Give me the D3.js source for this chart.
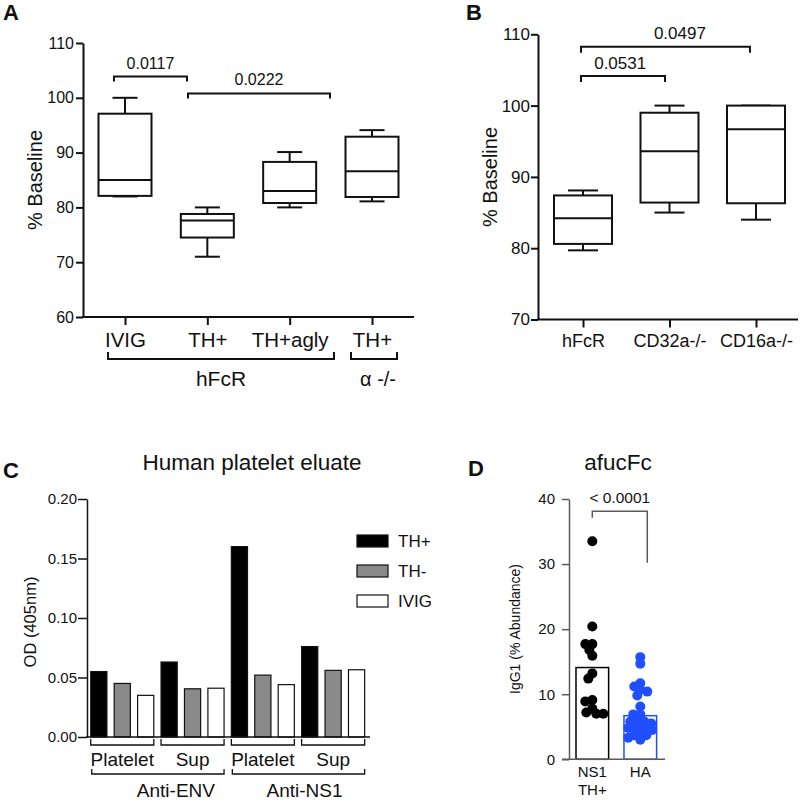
<!DOCTYPE html>
<html><head><meta charset="utf-8">
<script src="https://cdn.jsdelivr.net/npm/d3@7"></script>
<style>
body{margin:0;background:#fff}
svg{display:block}
text{font-family:"Liberation Sans",Arial,Helvetica,sans-serif;fill:#111}
</style>
</head><body>
<svg id="chart" width="800" height="802"></svg>
<script>
// ---------- Panel A data ----------
const aCategories = ["IVIG", "TH+", "TH+agly", "TH+"];
const aMin    = [82.0, 71.0, 80.0, 81.1];
const aQ1     = [82.1, 74.5, 80.8, 81.9];
const aMedian = [85.0, 77.6, 83.0, 86.6];
const aQ3     = [97.1, 78.8, 88.3, 92.9];
const aMax    = [100.0, 80.0, 90.1, 94.1];
const aTicks  = [60, 70, 80, 90, 100, 110];
const aPValues = ["0.0117", "0.0222"];
const aGroupLabels = ["hFcR", "\u03b1 -/-"];

// ---------- Panel B data ----------
const bCategories = ["hFcR", "CD32a-/-", "CD16a-/-"];
const bMin    = [79.7, 85.0, 84.0];
const bQ1     = [80.6, 86.4, 86.3];
const bMedian = [84.2, 93.6, 96.7];
const bQ3     = [87.4, 99.0, 100.0];
const bMax    = [88.1, 100.0, 100.0];
const bTicks  = [70, 80, 90, 100, 110];
const bPValues = ["0.0531", "0.0497"];

// ---------- Panel C data ----------
const cSeries = ["TH+", "TH-", "IVIG"];
const cSubgroups = ["Platelet", "Sup", "Platelet", "Sup"];
const cGroups = ["Anti-ENV", "Anti-NS1"];
const cTHplus  = [0.055, 0.063, 0.160, 0.076];
const cTHminus = [0.045, 0.0405, 0.052, 0.056];
const cIVIG    = [0.035, 0.041, 0.044, 0.0565];
const cTicks = [0.00, 0.05, 0.10, 0.15, 0.20];

// ---------- Panel D data ----------
const dCategories = [["NS1", "TH+"], ["HA"]];
const dNS1 = [33.5, 20.4, 17.7, 17.7, 16.8, 15.9, 13.2, 12.4, 9.1, 8.9, 7.8, 7.2, 7.0, 7.0];
const dHA  = [15.7, 14.7, 11.7, 11.2, 10.7, 10.4, 9.8, 8.1, 6.9, 6.9, 6.0, 5.8, 5.8, 5.5, 5.3, 5.0, 4.8, 4.8, 4.5, 4.2, 3.7, 3.7, 3.3, 3.0];
const dBarMeans = [14.1, 6.7];
const dTicks = [0, 10, 20, 30, 40];
const dPValue = "< 0.0001";

// ======================================================
const svg = d3.select("#chart");
const FONT = '"Liberation Sans",Arial,Helvetica,sans-serif';

function panelLetter(x, y, t) {
  svg.append("text").attr("x", x).attr("y", y).attr("font-size", 22)
    .attr("font-weight", "bold").text(t);
}

function styleAxis(g, sw, color, fs) {
  g.selectAll("path.domain").attr("stroke", color).attr("stroke-width", sw);
  g.selectAll(".tick line").attr("stroke", color).attr("stroke-width", sw);
  g.selectAll(".tick text").attr("font-size", fs).attr("font-family", FONT).attr("fill", "#111");
}

function boxes(g, x, y, mins, q1, med, q3, maxs, bw, cw) {
  d3.range(mins.length).forEach(i => {
    const cx = x(i);
    const gg = g.append("g").attr("stroke", "#111").attr("stroke-width", 2).attr("fill", "none");
    gg.append("line").attr("x1", cx).attr("x2", cx).attr("y1", y(maxs[i])).attr("y2", y(q3[i]));
    gg.append("line").attr("x1", cx).attr("x2", cx).attr("y1", y(q1[i])).attr("y2", y(mins[i]));
    gg.append("line").attr("x1", cx - cw / 2).attr("x2", cx + cw / 2).attr("y1", y(maxs[i])).attr("y2", y(maxs[i]));
    gg.append("line").attr("x1", cx - cw / 2).attr("x2", cx + cw / 2).attr("y1", y(mins[i])).attr("y2", y(mins[i]));
    gg.append("rect").attr("x", cx - bw / 2).attr("width", bw)
      .attr("y", y(q3[i])).attr("height", y(q1[i]) - y(q3[i])).attr("fill", "#fff");
    gg.append("line").attr("x1", cx - bw / 2).attr("x2", cx + bw / 2).attr("y1", y(med[i])).attr("y2", y(med[i]));
  });
}

function bracket(g, x1, x2, yh, leg1, leg2, color, sw) {
  g.append("path")
    .attr("d", `M${x1},${yh + leg1}V${yh}H${x2}V${yh + leg2}`)
    .attr("fill", "none").attr("stroke", color).attr("stroke-width", sw);
}

// ================= Panel A =================
(function () {
  const g = svg.append("g");
  const y = d3.scaleLinear().domain([60, 110]).range([317, 43]);
  const x = d3.scaleLinear().domain([0, 3]).range([125, 372]);
  const yAx = g.append("g").attr("transform", "translate(83,0)")
    .call(d3.axisLeft(y).tickValues(aTicks).tickSize(7).tickSizeOuter(0).tickPadding(2));
  styleAxis(yAx, 2, "#111", 16);
  const xAx = g.append("g").attr("transform", "translate(0,317)")
    .call(d3.axisBottom(x).tickValues(d3.range(aCategories.length))
      .tickFormat(i => aCategories[i]).tickSize(8).tickSizeOuter(0).tickPadding(7));
  xAx.select("path.domain").remove();
  styleAxis(xAx, 2, "#111", 20.5);
  g.append("line").attr("x1", 82).attr("x2", 414).attr("y1", 317).attr("y2", 317)
    .attr("stroke", "#111").attr("stroke-width", 2);

  boxes(g, x, y, aMin, aQ1, aMedian, aQ3, aMax, 53, 25);

  bracket(g, x(-0.134), x(0.753), y(103.9), 5, 5, "#111", 2);
  g.append("text").attr("x", (x(-0.134) + x(0.753)) / 2).attr("y", y(103.9) - 7)
    .attr("text-anchor", "middle").attr("font-size", 16).text(aPValues[0]);
  bracket(g, x(0.765), x(2.49), y(100.8), 5, 5, "#111", 2);
  g.append("text").attr("x", (x(0.765) + x(2.49)) / 2).attr("y", y(100.8) - 8)
    .attr("text-anchor", "middle").attr("font-size", 16).text(aPValues[1]);

  bracket(g, x(-0.206), x(2.538), 359, -7, -7, "#111", 2);
  g.append("text").attr("x", (x(-0.206) + x(2.538)) / 2).attr("y", 386)
    .attr("text-anchor", "middle").attr("font-size", 21).text(aGroupLabels[0]);
  bracket(g, x(2.745), x(3.304), 359, -7, -7, "#111", 2);
  g.append("text").attr("x", (x(2.745) + x(3.304)) / 2 + 4).attr("y", 386)
    .attr("text-anchor", "middle").attr("font-size", 20).text(aGroupLabels[1]);

  g.append("text").attr("transform", "translate(42,180) rotate(-90)")
    .attr("text-anchor", "middle").attr("font-size", 20).text("% Baseline");
  panelLetter(3, 20, "A");
})();

// ================= Panel B =================
(function () {
  const g = svg.append("g");
  const y = d3.scaleLinear().domain([70, 110]).range([319.5, 34.3]);
  const x = d3.scaleLinear().domain([0, 2]).range([583, 756]);
  const yAx = g.append("g").attr("transform", "translate(538,0)")
    .call(d3.axisLeft(y).tickValues(bTicks).tickSize(7).tickSizeOuter(0).tickPadding(1));
  styleAxis(yAx, 2, "#111", 17);
  const xAx = g.append("g").attr("transform", "translate(0,319.5)")
    .call(d3.axisBottom(x).tickValues(d3.range(bCategories.length))
      .tickFormat(i => bCategories[i]).tickSize(8).tickSizeOuter(0).tickPadding(7));
  xAx.select("path.domain").remove();
  styleAxis(xAx, 2, "#111", 18);
  g.append("line").attr("x1", 537).attr("x2", 798).attr("y1", 319.5).attr("y2", 319.5)
    .attr("stroke", "#111").attr("stroke-width", 2);

  boxes(g, x, y, bMin, bQ1, bMedian, bQ3, bMax, 58, 30);

  bracket(g, x(-0.023), x(0.948), y(104.15), 6, 6, "#111", 2);
  g.append("text").attr("x", x(0.43)).attr("y", y(104.15) - 7)
    .attr("text-anchor", "middle").attr("font-size", 17).text(bPValues[0]);
  bracket(g, x(-0.023), x(1.93), y(108.26), 6, 6, "#111", 2);
  g.append("text").attr("x", x(1.12)).attr("y", y(108.26) - 8)
    .attr("text-anchor", "middle").attr("font-size", 17).text(bPValues[1]);

  g.append("text").attr("transform", "translate(497,177) rotate(-90)")
    .attr("text-anchor", "middle").attr("font-size", 20).text("% Baseline");
  panelLetter(466, 20, "B");
})();

// ================= Panel C =================
(function () {
  const g = svg.append("g");
  const y = d3.scaleLinear().domain([0, 0.2]).range([737, 499]);
  const nBars = cSubgroups.length * cSeries.length;
  const x = d3.scaleBand().domain(d3.range(nBars)).range([87, 368.4])
    .paddingInner(0.31).paddingOuter(0.16);
  const seriesVals = [cTHplus, cTHminus, cIVIG];
  const fills = ["#000", "#8a8a8a", "#fff"];

  const bars = [];
  cSubgroups.forEach((sg, gi) => {
    cSeries.forEach((s, si) => {
      bars.push({i: gi * cSeries.length + si, v: seriesVals[si][gi], s: si});
    });
  });
  g.selectAll("rect.bar").data(bars).join("rect").attr("class", "bar")
    .attr("x", d => x(d.i)).attr("width", x.bandwidth())
    .attr("y", d => y(d.v)).attr("height", d => y(0) - y(d.v))
    .attr("fill", d => fills[d.s]).attr("stroke", "#111").attr("stroke-width", 1.2);

  const yAx = g.append("g").attr("transform", "translate(87,0)")
    .call(d3.axisLeft(y).tickValues(cTicks).tickFormat(d3.format(".2f"))
      .tickSize(9).tickSizeOuter(0).tickPadding(1));
  styleAxis(yAx, 1.5, "#111", 15);
  g.append("line").attr("x1", 86).attr("x2", 370).attr("y1", 737).attr("y2", 737)
    .attr("stroke", "#111").attr("stroke-width", 1.5);

  cSubgroups.forEach((sg, gi) => {
    const x1 = x(gi * 3), x2 = x(gi * 3 + 2) + x.bandwidth();
    bracket(g, x1, x2, 745, -6, -6, "#111", 1.3);
    g.append("text").attr("x", (x1 + x2) / 2).attr("y", 766)
      .attr("text-anchor", "middle").attr("font-size", 19).text(sg);
  });
  cGroups.forEach((gr, gi) => {
    const x1 = x(gi * 6) + 1, x2 = x(gi * 6 + 5) + x.bandwidth();
    bracket(g, x1, x2, 774, -5, -5, "#111", 1.3);
    g.append("text").attr("x", (x1 + x2) / 2 + (gi === 0 ? 18 : 6)).attr("y", 797)
      .attr("text-anchor", "middle").attr("font-size", 19).text(gr);
  });

  const lg = g.append("g");
  cSeries.forEach((s, si) => {
    lg.append("rect").attr("x", 357).attr("y", 535 + si * 30).attr("width", 31).attr("height", 12)
      .attr("fill", fills[si]).attr("stroke", "#111").attr("stroke-width", 1.2);
    lg.append("text").attr("x", 398).attr("y", 547 + si * 30).attr("font-size", 17).text(s);
  });

  g.append("text").attr("x", 252).attr("y", 470).attr("text-anchor", "middle")
    .attr("font-size", 22.5).text("Human platelet eluate");
  g.append("text").attr("transform", "translate(36,622) rotate(-90)")
    .attr("text-anchor", "middle").attr("font-size", 16.5).text("OD (405nm)");
  panelLetter(3, 478, "C");
})();

// ================= Panel D =================
(function () {
  const g = svg.append("g");
  const axisCol = "#5a5a5a";
  const blue = "#1f4fff";
  const y = d3.scaleLinear().domain([0, 40]).range([759.3, 499]);
  const x = d3.scaleBand().domain([0, 1]).range([569, 663.6]).paddingInner(0.32).paddingOuter(0.146);
  const colors = ["#000", blue];

  g.selectAll("rect.mean").data(dBarMeans).join("rect").attr("class", "mean")
    .attr("x", (d, i) => x(i)).attr("width", x.bandwidth())
    .attr("y", d => y(d)).attr("height", d => y(0) - y(d))
    .attr("fill", "#fff").attr("stroke", (d, i) => colors[i]).attr("stroke-width", 1.5);

  const r = 5;
  function swarm(values, cx, maxOff) {
    const order = d3.range(values.length).sort((a, b) => values[b] - values[a]);
    const placed = [];
    const out = new Array(values.length);
    order.forEach(i => {
      const py = y(values[i]);
      let best = cx, bestD = -1;
      for (let k = 0; k <= 2 * maxOff; k++) {
        const off = (k % 2 === 0 ? 1 : -1) * Math.ceil(k / 2);
        const cand = cx + off;
        const dmin = placed.length ? d3.min(placed, p => Math.hypot(p[0] - cand, p[1] - py)) : 1e9;
        if (dmin >= 1.3 * r) { best = cand; bestD = dmin; break; }
        if (dmin > bestD) { bestD = dmin; best = cand; }
      }
      placed.push([best, py]);
      out[i] = [best, py];
    });
    return out;
  }
  const groups = [dNS1, dHA];
  groups.forEach((vals, gi) => {
    const pts = swarm(vals, x(gi) + x.bandwidth() / 2, 12);
    g.append("g").selectAll("circle").data(pts).join("circle")
      .attr("cx", d => d[0]).attr("cy", d => d[1]).attr("r", r).attr("fill", colors[gi]);
  });

  const yAx = g.append("g").attr("transform", "translate(569,0)")
    .call(d3.axisLeft(y).tickValues(dTicks).tickSize(7).tickSizeOuter(0).tickPadding(7));
  styleAxis(yAx, 1.5, axisCol, 15);
  g.append("line").attr("x1", 562).attr("x2", 665).attr("y1", 759.3).attr("y2", 759.3)
    .attr("stroke", axisCol).attr("stroke-width", 1.5);

  dCategories.forEach((lines, i) => {
    const t = g.append("text").attr("x", x(i) + x.bandwidth() / 2).attr("y", 777)
      .attr("text-anchor", "middle").attr("font-size", 15);
    lines.forEach((l, li) => t.append("tspan").attr("x", x(i) + x.bandwidth() / 2)
      .attr("dy", li === 0 ? 0 : 18).text(l));
  });

  const xl = x(0) + x.bandwidth() / 2, xr = x(1) + x.bandwidth() / 2 + 7;
  g.append("path").attr("d", `M${xl},${y(37.1)}V${y(38.1)}H${xr}V${y(30.2)}`)
    .attr("fill", "none").attr("stroke", axisCol).attr("stroke-width", 1.5);
  g.append("text").attr("x", (xl + xr) / 2).attr("y", 503).attr("text-anchor", "middle")
    .attr("font-size", 15.5).text(dPValue);

  g.append("text").attr("x", 618).attr("y", 470).attr("text-anchor", "middle")
    .attr("font-size", 22.5).text("afucFc");
  g.append("text").attr("transform", "translate(520,629) rotate(-90)")
    .attr("text-anchor", "middle").attr("font-size", 14).text("IgG1 (% Abundance)");
  panelLetter(468, 476, "D");
})();
</script>
</body></html>
